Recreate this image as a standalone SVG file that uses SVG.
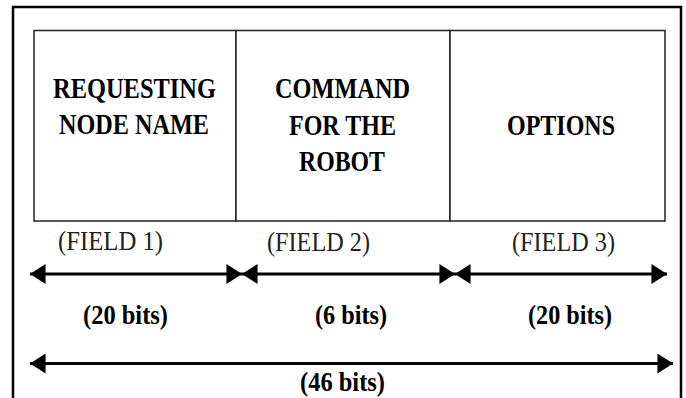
<svg xmlns="http://www.w3.org/2000/svg" width="686" height="398" viewBox="0 0 686 398">
  <style>
    .hdr { font-family: "Liberation Serif", "Times New Roman", serif; font-weight: bold; font-size: 29px; fill: #000; text-anchor: middle; }
    .fld { font-family: "Liberation Serif", "Times New Roman", serif; font-size: 28px; fill: #222; text-anchor: middle; }
    .bits { font-family: "Liberation Serif", "Times New Roman", serif; font-weight: bold; font-size: 28px; fill: #000; text-anchor: middle; }
    .cell { fill: #fff; stroke: #222; stroke-width: 1.5; }
    .arr { stroke: #000; stroke-width: 3; fill: none; marker-start: url(#ah); marker-end: url(#ah); }
  </style>
  <defs>
    <marker id="ah" markerUnits="userSpaceOnUse" markerWidth="16" markerHeight="20" viewBox="0 0 14 18" refX="14" refY="9" orient="auto-start-reverse">
      <path d="M0,0 L14,9 L0,18 Z" fill="#000"/>
    </marker>
  </defs>
  <rect x="0" y="0" width="686" height="398" fill="#fff"/>
  <path d="M13,400 L13,7 L681,7 L681,400" fill="none" stroke="#000" stroke-width="2.5"/>

  <g id="field1">
    <rect class="cell" x="34" y="30.5" width="202" height="190.5"/>
    <text class="hdr" x="134.5" y="97.5" textLength="163" lengthAdjust="spacingAndGlyphs">REQUESTING</text>
    <text class="hdr" x="134" y="134" textLength="150" lengthAdjust="spacingAndGlyphs">NODE NAME</text>
  </g>
  <g id="field2">
    <rect class="cell" x="236" y="30.5" width="214" height="190.5"/>
    <text class="hdr" x="342.5" y="98" textLength="135" lengthAdjust="spacingAndGlyphs">COMMAND</text>
    <text class="hdr" x="342.5" y="134.5" textLength="107" lengthAdjust="spacingAndGlyphs">FOR THE</text>
    <text class="hdr" x="342" y="171" textLength="86" lengthAdjust="spacingAndGlyphs">ROBOT</text>
  </g>
  <g id="field3">
    <rect class="cell" x="450" y="30.5" width="215" height="190.5"/>
    <text class="hdr" x="561" y="134.5" textLength="108" lengthAdjust="spacingAndGlyphs">OPTIONS</text>
  </g>

  <g id="labels">
    <text class="fld" x="110.5" y="250" textLength="105" lengthAdjust="spacingAndGlyphs">(FIELD 1)</text>
    <text class="fld" x="318.5" y="251" textLength="103" lengthAdjust="spacingAndGlyphs">(FIELD 2)</text>
    <text class="fld" x="563.5" y="251" textLength="103" lengthAdjust="spacingAndGlyphs">(FIELD 3)</text>
    <text class="bits" x="125.5" y="323.5" textLength="85" lengthAdjust="spacingAndGlyphs">(20 bits)</text>
    <text class="bits" x="351" y="323.5" textLength="72" lengthAdjust="spacingAndGlyphs">(6 bits)</text>
    <text class="bits" x="570" y="323.5" textLength="84" lengthAdjust="spacingAndGlyphs">(20 bits)</text>
    <text class="bits" x="342.5" y="391" textLength="85" lengthAdjust="spacingAndGlyphs">(46 bits)</text>
  </g>

  <g id="connectors">
    <line class="arr" x1="30" y1="274" x2="242" y2="274"/>
    <line class="arr" x1="242" y1="274" x2="455" y2="274"/>
    <line class="arr" x1="455" y1="274" x2="667" y2="274"/>
    <line class="arr" x1="30" y1="363.5" x2="673" y2="363.5"/>
  </g>
</svg>
